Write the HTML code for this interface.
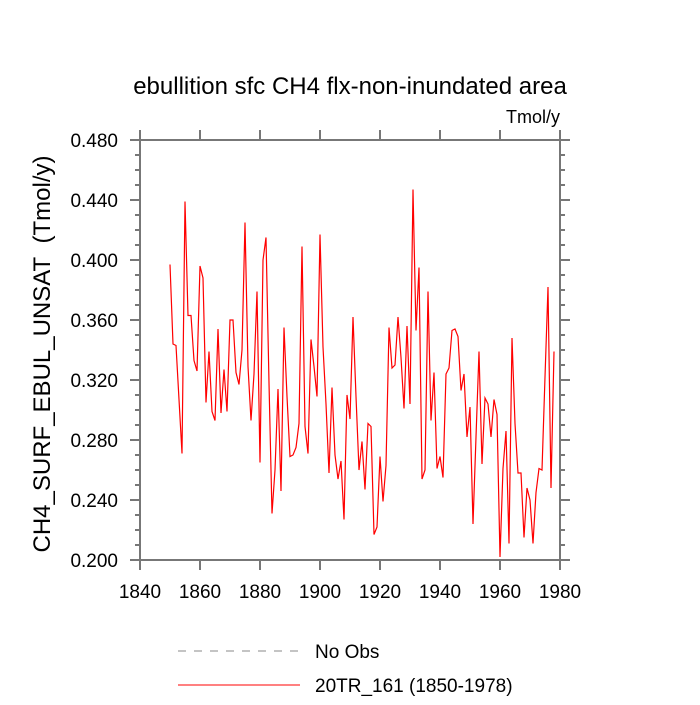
<!DOCTYPE html>
<html><head><meta charset="utf-8"><style>
body{margin:0;background:#fff;}
svg text{font-family:"Liberation Sans",sans-serif;fill:#000;}
</style></head><body>
<svg width="700" height="700" viewBox="0 0 700 700">
<text x="350" y="94" font-size="24" text-anchor="middle">ebullition sfc CH4 flx-non-inundated area</text>
<text x="560" y="123" font-size="18" text-anchor="end">Tmol/y</text>
<text transform="translate(50,354) rotate(-90)" font-size="24" text-anchor="middle">CH4_SURF_EBUL_UNSAT&#160;&#160;(Tmol/y)</text>
<g id="axes"></g>
<polyline id="series" fill="none" stroke="#ff0000" stroke-width="1.2"/>
<g>
<line x1="178" y1="651" x2="300" y2="651" stroke="#888" stroke-width="1" stroke-dasharray="8,8"/>
<text x="315" y="658" font-size="19">No Obs</text>
<line x1="178" y1="685" x2="300" y2="685" stroke="#ff0000" stroke-width="1"/>
<text x="315" y="692" font-size="19">20TR_161 (1850-1978)</text>
</g>
</svg>
<script>
const startYear = 1850;
const values = [0.397,0.344,0.343,0.307,0.271,0.439,0.363,0.363,0.333,0.326,
0.396,0.388,0.305,0.339,0.299,0.293,0.354,0.298,0.327,0.299,
0.360,0.360,0.325,0.317,0.340,0.425,0.329,0.293,0.324,0.379,
0.265,0.400,0.415,0.318,0.231,0.260,0.314,0.246,0.355,0.309,
0.269,0.270,0.275,0.291,0.409,0.289,0.271,0.347,0.329,0.309,
0.417,0.342,0.304,0.258,0.315,0.270,0.254,0.266,0.227,0.310,
0.294,0.362,0.309,0.260,0.279,0.247,0.291,0.289,0.217,0.222,
0.269,0.239,0.263,0.355,0.328,0.330,0.362,0.335,0.301,0.356,
0.304,0.447,0.353,0.395,0.254,0.260,0.379,0.293,0.325,0.261,
0.269,0.255,0.324,0.328,0.353,0.354,0.349,0.313,0.324,0.282,
0.302,0.224,0.282,0.339,0.264,0.308,0.304,0.282,0.307,0.297,
0.202,0.261,0.286,0.211,0.348,0.291,0.258,0.258,0.215,0.248,
0.240,0.211,0.245,0.261,0.260,0.322,0.382,0.248,0.339];
const xTicks = [1840,1860,1880,1900,1920,1940,1960,1980];
const yTicks = [0.200,0.240,0.280,0.320,0.360,0.400,0.440,0.480];
const X = yr => 140 + (yr - 1840) * 3;
const Y = v => 140 + (0.48 - v) * 1500;
const NS = "http://www.w3.org/2000/svg";
const axes = document.getElementById('axes');
function ln(x1,y1,x2,y2,w,name){
  const l=document.createElementNS(NS,'line');
  l.setAttribute('x1',x1);l.setAttribute('y1',y1);l.setAttribute('x2',x2);l.setAttribute('y2',y2);
  l.setAttribute('stroke','#777');l.setAttribute('stroke-width',w);
  
  
  axes.appendChild(l);
}
function tx(x,y,s,anchor,name){
  const t=document.createElementNS(NS,'text');
  t.setAttribute('x',x);t.setAttribute('y',y);t.setAttribute('font-size','19');t.setAttribute('text-anchor',anchor);
  t.textContent=s;
  
  
  axes.appendChild(t);
}
ln(140,140,560,140,2,'frame-top');ln(140,560,560,560,2,'frame-bottom');
ln(140,140,140,560,2,'frame-left');ln(560,140,560,560,2,'frame-right');
xTicks.forEach(t=>{
  ln(X(t),560,X(t),570,2,'x-tick');ln(X(t),140,X(t),130,2,'x-tick-top');
  tx(X(t),598,String(t),'middle','x-tick-label');
});
for(let v=0.2;v<=0.4801;v+=0.01){
  const major=Math.abs(Math.round(v*100)%4)===0;
  const len=major?10:5;
  ln(140,Y(v),140-len,Y(v),2,'y-tick');ln(560,Y(v),560+len,Y(v),2,'y-tick-right');
}
yTicks.forEach(t=>tx(118,Y(t)+7,t.toFixed(3),'end','y-tick-label'));
const pl=document.getElementById('series');
pl.setAttribute('points',values.map((v,i)=>X(startYear+i)+','+Y(v)).join(' '));
</script>
</body></html>
